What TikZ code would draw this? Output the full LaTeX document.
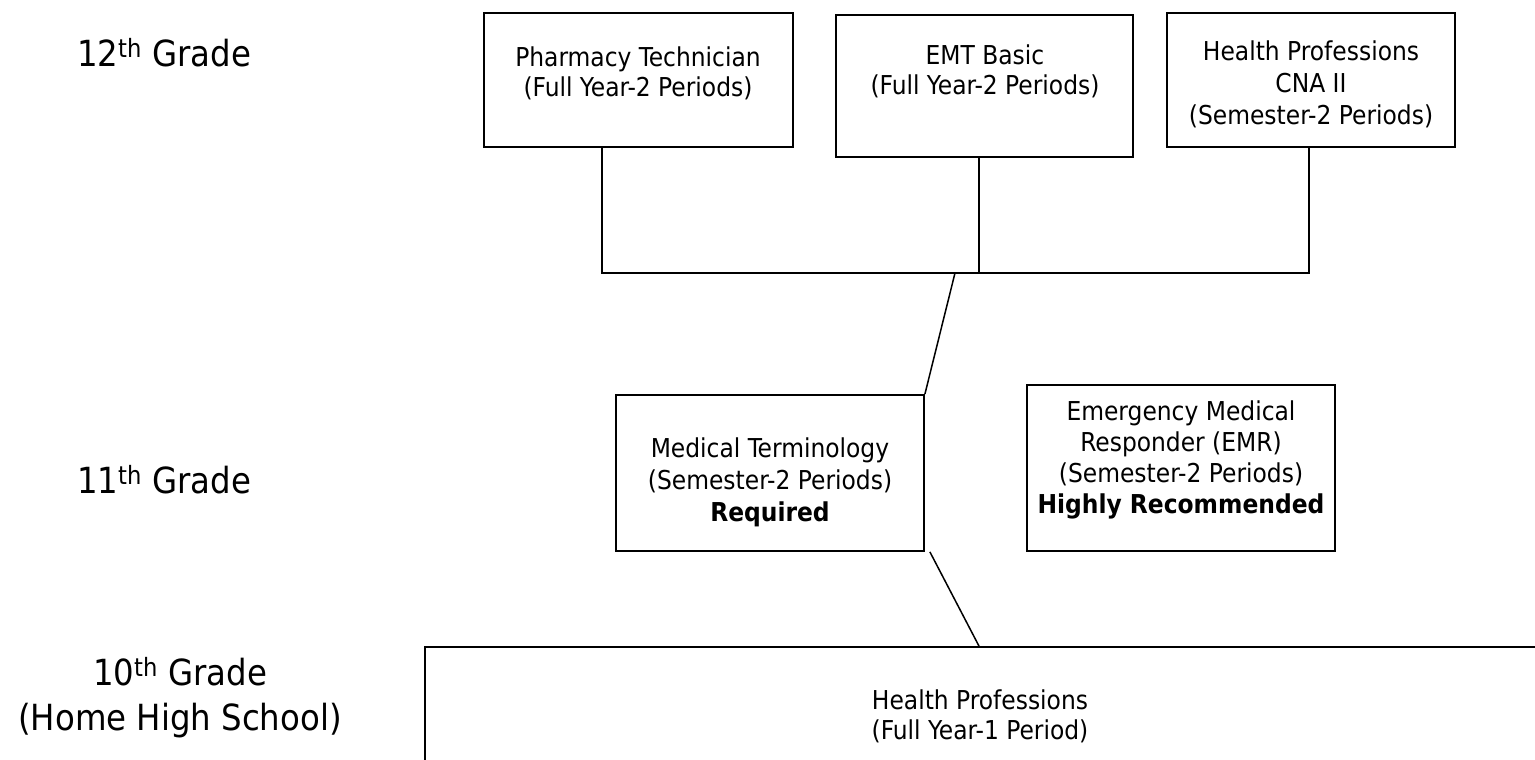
\documentclass[tikz,border=0pt]{standalone}
\usepackage{fontspec}
\setmainfont{DejaVu Sans Condensed}
\usetikzlibrary{positioning}

\begin{document}
\begin{tikzpicture}[x=1pt, y=-1pt,
    course/.style={rectangle, draw, line width=1.8pt, inner sep=0pt},
    ctext/.style={align=center, inner sep=0pt, font=\fontsize{26}{30}\selectfont},
    grade/.style={align=center, inner sep=0pt, font=\fontsize{36}{45}\selectfont},
    link/.style={line width=1.5pt}
]
    \clip (0,0) rectangle (1535,760);

    % Grade labels
    \node[grade] (g12) at (164,53) {12\textsuperscript{th} Grade};
    \node[grade] (g11) at (164,480) {11\textsuperscript{th} Grade};
    \node[grade] (g10) at (180,698) {10\textsuperscript{th} Grade\\(Home High School)};

    % 12th grade courses
    \node[course, minimum width=309, minimum height=134] (pharm) at (638.5,80) {};
    \node[course, minimum width=297, minimum height=142] (emt) at (984.5,86) {};
    \node[course, minimum width=288, minimum height=134] (cna) at (1311,80) {};
    \node[ctext] (pharmtxt) at (638,73) {Pharmacy Technician\\(Full Year-2 Periods)};
    \node[ctext] (emttxt) at (985,71) {EMT Basic\\(Full Year-2 Periods)};
    \node[ctext, font=\fontsize{26}{32}\selectfont] (cnatxt) at (1311,84) {Health Professions\\CNA II\\(Semester-2 Periods)};

    % 11th grade courses
    \node[course, minimum width=308, minimum height=156] (medterm) at (770,473) {};
    \node[course, minimum width=308, minimum height=166] (emr) at (1181,468) {};
    \node[ctext, font=\fontsize{26}{32}\selectfont] (medtxt) at (770,482) {Medical Terminology\\(Semester-2 Periods)\\\textbf{Required}};
    \node[ctext, font=\fontsize{26}{31}\selectfont] (emrtxt) at (1181,460) {Emergency Medical\\Responder (EMR)\\(Semester-2 Periods)\\\textbf{Highly Recommended}};

    % 10th grade course
    \node[course, minimum width=1120, minimum height=140] (health) at (985,717) {};
    \node[ctext] (healthtxt) at (980,716) {Health Professions\\(Full Year-1 Period)};

    % Connectors
    \coordinate (busL) at (602,273);
    \coordinate (busE) at (979,273);
    \coordinate (busM) at (955,273);
    \coordinate (busR) at (1309,273);
    \draw[link] (pharm.south -| busL) -- (busL) -- (busR) -- (cna.south -| busR);
    \draw[link] (emt.south -| busE) -- (busE);
    \draw[link] (busM) -- (medterm.north east);
    \draw[link] ([xshift=5pt]medterm.south east) -- ([xshift=-6pt]health.north);
\end{tikzpicture}
\end{document}
